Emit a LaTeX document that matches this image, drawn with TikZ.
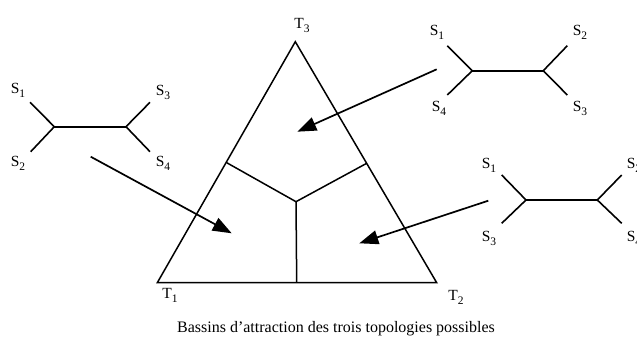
\documentclass[tikz,border=0pt]{standalone}
\usepackage{fontspec}
\setmainfont{Liberation Serif}
\usetikzlibrary{arrows.meta}
\newcommand{\lab}[2]{#1\raisebox{-4pt}{\fontsize{11.5}{11.5}\selectfont #2}}
\begin{document}
\begin{tikzpicture}[x=1pt,y=-1pt,
  edge/.style={line width=1.6pt},
  tri/.style={line width=1.5pt,line join=miter},
  pointer/.style={line width=1.7pt,-{Triangle[length=19pt,width=14pt]}},
  lbl/.style={font=\fontsize{15.5}{15.5}\selectfont,inner sep=0pt}]
\useasboundingbox (0,0) rectangle (637,340);
% triangle
\coordinate (T3p) at (295.3,41.7);
\coordinate (T1p) at (157.3,282.7);
\coordinate (T2p) at (436.7,282.7);
\coordinate (C) at (296,201.7);
\coordinate (L) at (226.7,162.7);
\coordinate (R) at (366.7,163.3);
\coordinate (B) at (296.7,282.7);
\draw[tri] (T3p) -- (T1p) -- (T2p) -- cycle;
\draw[tri] (L) -- (C) -- (R);
\draw[tri] (C) -- (B);
\node[lbl] (t3) at (302,25) {\lab{T}{3}};
\node[lbl] (t1) at (170,295) {\lab{T}{1}};
\node[lbl] (t2) at (456,297) {\lab{T}{2}};
% left tree
\coordinate (a1) at (54.3,126.7);
\coordinate (a2) at (126,126.7);
\coordinate (a11) at (30,102.3);
\coordinate (a12) at (30.7,151.7);
\coordinate (a21) at (150,102.3);
\coordinate (a22) at (150,151.7);
\draw[edge] (a11) -- (a1) -- (a12);
\draw[edge] (a1) -- (a2);
\draw[edge] (a21) -- (a2) -- (a22);
\node[lbl] (la1) at (18,90) {\lab{S}{1}};
\node[lbl] (la2) at (18,163) {\lab{S}{2}};
\node[lbl] (la3) at (163,92) {\lab{S}{3}};
\node[lbl] (la4) at (163,163) {\lab{S}{4}};
% top right tree
\coordinate (b1) at (472.3,70.7);
\coordinate (b2) at (543.3,70.7);
\coordinate (b11) at (447.3,45.7);
\coordinate (b12) at (447.3,95);
\coordinate (b21) at (567.3,45.7);
\coordinate (b22) at (567.3,95);
\draw[edge] (b11) -- (b1) -- (b12);
\draw[edge] (b1) -- (b2);
\draw[edge] (b21) -- (b2) -- (b22);
\node[lbl] (lb1) at (437,32) {\lab{S}{1}};
\node[lbl] (lb4) at (439,108) {\lab{S}{4}};
\node[lbl] (lb2) at (580,32) {\lab{S}{2}};
\node[lbl] (lb3) at (580,108) {\lab{S}{3}};
% bottom right tree
\coordinate (c1) at (526,200);
\coordinate (c2) at (597.3,200);
\coordinate (c11) at (501.7,175);
\coordinate (c12) at (501.7,223.3);
\coordinate (c21) at (621.7,175);
\coordinate (c22) at (621.7,223.3);
\draw[edge] (c11) -- (c1) -- (c12);
\draw[edge] (c1) -- (c2);
\draw[edge] (c21) -- (c2) -- (c22);
\node[lbl] (lc1) at (489,165) {\lab{S}{1}};
\node[lbl] (lc3) at (489,238) {\lab{S}{3}};
\node[lbl] (lc2) at (634,165) {\lab{S}{2}};
\node[lbl] (lc4) at (634,238) {\lab{S}{4}};
% arrows
\coordinate (p1s) at (436.7,69.3);
\coordinate (p1e) at (297.3,131.7);
\coordinate (p2s) at (90.7,156.7);
\coordinate (p2e) at (231.7,233.3);
\coordinate (p3s) at (488.3,200.7);
\coordinate (p3e) at (359.3,243.3);
\draw[pointer] (p1s) -- (p1e);
\draw[pointer] (p2s) -- (p2e);
\draw[pointer] (p3s) -- (p3e);
% caption
\node[font=\fontsize{16}{16}\selectfont,inner sep=0pt] (cap) at (336,329) {Bassins d’attraction des trois topologies possibles};
\end{tikzpicture}
\end{document}
